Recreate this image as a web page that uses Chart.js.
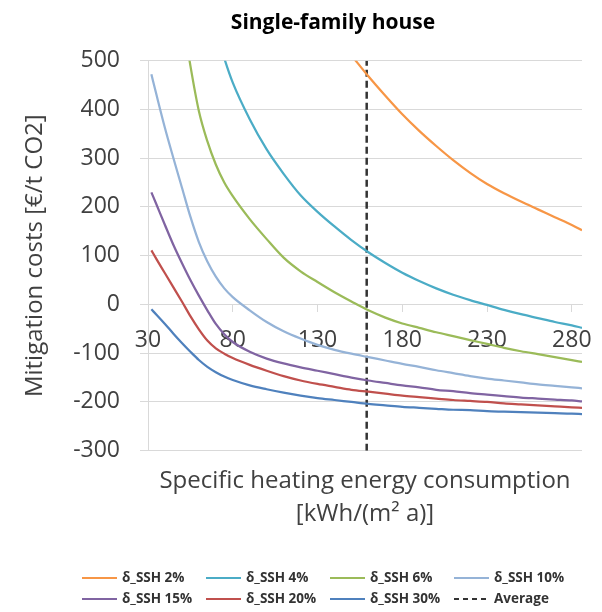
<!DOCTYPE html>
<html>
<head>
<meta charset="utf-8">
<title>Single-family house</title>
<script src="https://cdn.jsdelivr.net/npm/chart.js@4/dist/chart.umd.min.js"></script>
<style>
  html, body { margin: 0; padding: 0; background: #ffffff; }
  #wrap { width: 602px; height: 612px; }
</style>
</head>
<body>
<div id="wrap"><canvas id="chart" width="602" height="612"></canvas></div>
<script>
// Specific heating energy consumption [kWh/(m² a)]
const energy = [32, 35, 40, 45, 50, 55, 60, 65, 70, 75, 80, 90, 100, 110, 120, 130, 140,
                150, 160, 170, 180, 190, 200, 210, 220, 230, 240, 250, 260, 270, 280, 286];

// Mitigation costs [€/t CO2] per share of solar space heating (δ_SSH)
const ssh2  = [null, null, null, null, null, null, null, null, null, null, null, null, null, null, null, null, null,
               511, 468, 428, 390, 356, 325, 296, 270, 247, 228, 211, 195, 179, 163, 152];
const ssh4  = [null, null, null, null, null, null, null, null, 565, 505, 455, 380, 318, 268, 224, 190, 160,
               132, 107, 85, 65, 48, 33, 20, 9, -1, -11, -20, -28, -36, -43, -48];
const ssh6  = [null, null, null, null, 600, 490, 397, 335, 287, 250, 222, 175, 134, 96, 68, 46, 25,
               6, -12, -27, -39, -48, -57, -65, -73, -81, -89, -96, -102, -108, -114, -118];
const ssh10 = [472, 430, 362, 300, 240, 180, 128, 88, 57, 33, 15, -12, -36, -55, -70, -83, -93,
               -101, -108, -115, -122, -128, -135, -141, -147, -152, -156, -160, -164, -167, -170, -172];
const ssh15 = [230, 205, 163, 122, 85, 50, 18, -12, -40, -61, -77, -97, -111, -121, -129, -136, -143,
               -150, -156, -161, -166, -170, -175, -178, -182, -185, -188, -191, -193, -195, -197, -199];
const ssh20 = [111, 93, 64, 35, 6, -24, -51, -74, -90, -101, -110, -124, -136, -147, -156, -163, -169,
               -175, -179, -183, -187, -190, -193, -196, -198, -200, -203, -205, -207, -209, -211, -212];
const ssh30 = [-10, -21, -40, -60, -79, -97, -114, -128, -139, -148, -155, -166, -174, -181, -187, -192, -196,
               -200, -204, -207, -210, -212, -214, -216, -217, -219, -220, -221, -222, -223, -224, -225];

// Average specific heating energy consumption (vertical reference line)
const averageEnergy = 159;

const seriesLabels = ['δ_SSH 2%', 'δ_SSH 4%', 'δ_SSH 6%', 'δ_SSH 10%', 'δ_SSH 15%', 'δ_SSH 20%', 'δ_SSH 30%'];
const seriesValues = [ssh2, ssh4, ssh6, ssh10, ssh15, ssh20, ssh30];
const seriesColors = ['#F79646', '#4BACC6', '#9BBB59', '#95B3D7', '#8064A2', '#C0504D', '#4F81BD'];

const xTickValues = [30, 80, 130, 180, 230, 280];
const xRange = [30, 286];
const yRange = [-300, 500];

const FONT = "'Open Sans', 'Liberation Sans', sans-serif";
const TEXT = '#404040';
const GRID = '#D9D9D9';

const datasets = seriesValues.map((vals, i) => ({
  label: seriesLabels[i],
  data: energy.map((x, j) => ({ x: x, y: vals[j] })),
  borderColor: seriesColors[i],
  backgroundColor: seriesColors[i],
  borderWidth: 2.25,
  pointRadius: 0,
  cubicInterpolationMode: 'monotone',
  xAxisID: 'x',
  yAxisID: 'y'
}));

datasets.push({
  label: 'Average',
  data: [{ x: averageEnergy, y: yRange[0] }, { x: averageEnergy, y: yRange[1] }],
  borderColor: '#333333',
  backgroundColor: '#333333',
  borderWidth: 2.5,
  borderDash: [7, 4],
  pointRadius: 0,
  xAxisID: 'x',
  yAxisID: 'y'
});

// Moves the title block sideways so it sits over the plot rather than the whole canvas
const titleShift = {
  id: 'titleShift',
  afterLayout(chart, args, opts) {
    const t = chart.titleBlock;
    if (t) { t.left += opts.shift; t.right += opts.shift; }
  }
};

// Legend laid out as a fixed four-column grid below the axis title
const gridLegend = {
  id: 'gridLegend',
  afterDraw(chart, args, opts) {
    const ctx = chart.ctx;
    ctx.save();
    ctx.font = opts.font;
    ctx.textBaseline = 'middle';
    ctx.textAlign = 'left';
    chart.data.datasets.forEach((ds, i) => {
      const col = i % opts.columns;
      const row = Math.floor(i / opts.columns);
      const x = opts.left + col * opts.columnWidth;
      const y = opts.top + row * opts.rowHeight;
      ctx.strokeStyle = ds.borderColor;
      ctx.lineWidth = 2;
      ctx.setLineDash(ds.borderDash ? [5, 4] : []);
      ctx.beginPath();
      ctx.moveTo(x, y);
      ctx.lineTo(x + opts.lineLength, y);
      ctx.stroke();
      ctx.setLineDash([]);
      ctx.fillStyle = opts.color;
      ctx.fillText(ds.label, x + opts.lineLength + opts.gap, y);
    });
    ctx.restore();
  }
};

new Chart(document.getElementById('chart'), {
  type: 'line',
  data: { datasets: datasets },
  plugins: [titleShift, gridLegend],
  options: {
    responsive: false,
    devicePixelRatio: 1,
    animation: false,
    layout: { padding: { top: 0, left: 0, right: 20, bottom: 82 } },
    plugins: {
      legend: { display: false },
      tooltip: { enabled: false },
      title: {
        display: true,
        text: 'Single-family house',
        color: '#000000',
        font: { family: FONT, size: 21, weight: 'bold', lineHeight: 1.2 },
        padding: { top: 10, bottom: 25.5 }
      },
      titleShift: { shift: 42 },
      gridLegend: {
        columns: 4, left: 82, columnWidth: 124, top: 578, rowHeight: 21,
        lineLength: 35, gap: 5, color: '#333333',
        font: "bold 13.5px 'Open Sans', sans-serif"
      }
    },
    scales: {
      x: {
        type: 'linear',
        axis: 'x',
        position: { y: 0 },
        min: xRange[0],
        max: xRange[1],
        afterBuildTicks(scale) { scale.ticks = xTickValues.map(v => ({ value: v })); },
        afterFit(scale) { scale.height = 0; scale.paddingLeft = 0; scale.paddingRight = 0; },
        ticks: { color: TEXT, font: { family: FONT, size: 23 }, padding: 15, maxRotation: 0, autoSkip: false },
        grid: { display: true, drawOnChartArea: false, drawTicks: true, tickLength: 7, color: GRID },
        border: { display: true, color: GRID }
      },
      xTitle: {
        type: 'linear',
        axis: 'x',
        position: 'bottom',
        min: xRange[0],
        max: xRange[1],
        ticks: { display: false },
        grid: { display: false, drawTicks: false },
        border: { display: false },
        title: {
          display: true,
          text: ['Specific heating energy consumption', '[kWh/(m² a)]'],
          color: TEXT,
          font: { family: FONT, size: 24, lineHeight: 1.35 },
          padding: { top: 14.5, bottom: 0 }
        }
      },
      y: {
        type: 'linear',
        position: 'left',
        min: yRange[0],
        max: yRange[1],
        afterFit(scale) { scale.width = 148; scale.paddingTop = 0; scale.paddingBottom = 0; },
        ticks: { stepSize: 100, color: TEXT, font: { family: FONT, size: 23 }, padding: 20 },
        grid: { color: GRID, lineWidth: 1, drawTicks: true, tickLength: 8 },
        border: { display: true, color: GRID },
        title: {
          display: true,
          text: 'Mitigation costs [€/t CO2]',
          color: TEXT,
          font: { family: FONT, size: 24, lineHeight: 1.2 },
          padding: { top: 21, bottom: 0 }
        }
      }
    }
  }
});
</script>
</body>
</html>
